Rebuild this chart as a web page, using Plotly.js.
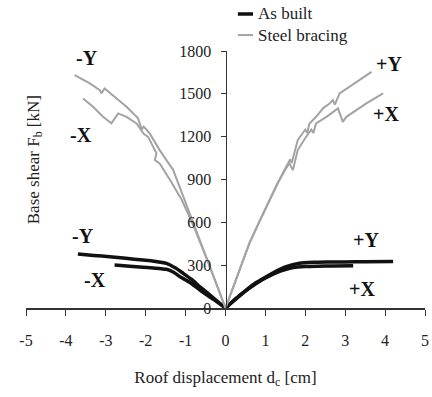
<!DOCTYPE html>
<html>
<head>
<meta charset="utf-8">
<script src="https://cdn.plot.ly/plotly-3.0.1.min.js"></script>
<style>html,body{margin:0;padding:0;background:#fff;}#chart{width:432px;height:397px;}</style>
</head>
<body>
<div id="chart"></div>
<script>
// Steel bracing curves (displacement cm, base shear kN)
const sbPosY_x = [0, 0.2, 0.4, 0.6, 0.84, 1.06, 1.3, 1.52, 1.62, 1.66, 1.81, 2.0, 2.05, 2.1, 2.27, 2.45, 2.6, 2.69, 2.74, 2.86, 3.1, 3.36, 3.66];
const sbPosY_y = [0, 150, 300, 455, 600, 735, 870, 989, 1040, 1015, 1176, 1250, 1225, 1290, 1339, 1400, 1430, 1456, 1425, 1503, 1550, 1596, 1654];
const sbPosX_x = [0, 0.2, 0.4, 0.6, 0.84, 1.06, 1.3, 1.5, 1.60, 1.69, 1.81, 2.02, 2.15, 2.2, 2.27, 2.53, 2.82, 2.94, 3.03, 3.53, 3.95];
const sbPosX_y = [0, 150, 300, 455, 600, 735, 870, 970, 1013, 966, 1106, 1199, 1250, 1225, 1293, 1339, 1398, 1304, 1339, 1433, 1503];
const sbNegY_x = [0, -0.4, -0.8, -1.05, -1.31, -1.65, -1.90, -2.05, -2.1, -2.19, -2.48, -2.82, -3.03, -3.11, -3.15, -3.40, -3.78];
const sbNegY_y = [0, 300, 590, 775, 966, 1106, 1223, 1270, 1250, 1328, 1409, 1491, 1538, 1503, 1526, 1573, 1631];
const sbNegX_x = [0, -0.4, -0.8, -1.1, -1.39, -1.65, -1.77, -1.73, -1.94, -2.05, -2.23, -2.48, -2.69, -2.86, -3.07, -3.32, -3.57];
const sbNegX_y = [0, 295, 575, 760, 896, 1013, 1036, 1083, 1199, 1220, 1293, 1339, 1363, 1293, 1339, 1409, 1468];

// As built curves
const abPosY_x = [0, 0.25, 0.52, 0.75, 1.02, 1.25, 1.52, 1.85, 2.2, 2.53, 3.0, 3.5, 4.2];
const abPosY_y = [0, 65, 126, 175, 219, 255, 289, 313, 320, 322, 323, 324, 325];
const abPosX_x = [0, 0.25, 0.5, 0.75, 1.0, 1.25, 1.5, 1.7, 2.0, 2.3, 2.7, 3.2];
const abPosX_y = [0, 60, 118, 168, 210, 245, 270, 283, 290, 293, 295, 296];
const abNegY_x = [0, -0.3, -0.64, -0.85, -1.06, -1.25, -1.48, -1.8, -2.07, -2.5, -2.9, -3.3, -3.70];
const abNegY_y = [0, 70, 149, 200, 243, 280, 313, 328, 336, 348, 359, 368, 378];
const abNegX_x = [0, -0.3, -0.64, -0.9, -1.14, -1.3, -1.48, -1.8, -2.07, -2.4, -2.78];
const abNegX_y = [0, 60, 126, 180, 219, 250, 271, 280, 285, 293, 301];

const xTicks = [-5, -4, -3, -2, -1, 0, 1, 2, 3, 4, 5];
const yTicks = [0, 300, 600, 900, 1200, 1500, 1800];
const seriesNames = ["As built", "Steel bracing"];

const FONT = '"Liberation Serif", serif';
const AB_COLOR = "#111111", SB_COLOR = "#a3a3a3";
const abLine = {color: AB_COLOR, width: 3.5, shape: "spline", smoothing: 0.6};
const sbLine = {color: SB_COLOR, width: 2};

function tr(x, y, name, line) {
  return {x: x, y: y, type: "scatter", mode: "lines", name: name, legendgroup: name,
          showlegend: false, line: line, hoverinfo: "skip"};
}

const data = [
  tr(abPosY_x, abPosY_y, seriesNames[0], abLine),
  tr(abPosX_x, abPosX_y, seriesNames[0], abLine),
  tr(abNegY_x, abNegY_y, seriesNames[0], abLine),
  tr(abNegX_x, abNegX_y, seriesNames[0], abLine),
  tr(sbPosY_x, sbPosY_y, seriesNames[1], sbLine),
  tr(sbPosX_x, sbPosX_y, seriesNames[1], sbLine),
  tr(sbNegY_x, sbNegY_y, seriesNames[1], sbLine),
  tr(sbNegX_x, sbNegX_y, seriesNames[1], sbLine)
];

const lab = (x, y, t) => ({x: x, y: y, xref: "x", yref: "y", text: "<b>" + t + "</b>", showarrow: false,
  font: {family: FONT, size: 20, color: "#111"}});

// legend drawn as swatch + text (paper coordinates)
const legRows = [{y: 1.144, color: AB_COLOR, w: 3.5}, {y: 1.062, color: SB_COLOR, w: 2}];
const legShapes = legRows.map(r => ({type: "line", xref: "paper", yref: "paper", x0: 0.531, x1: 0.569,
  y0: r.y, y1: r.y, line: {color: r.color, width: r.w}}));
const legTexts = legRows.map((r, i) => ({xref: "paper", yref: "paper", x: 0.576, y: r.y, xanchor: "left",
  yanchor: "middle", showarrow: false, text: seriesNames[i], font: {family: FONT, size: 17, color: "#222"}}));

const layout = {
  width: 432, height: 397,
  margin: {l: 26, r: 7, t: 51, b: 89},
  paper_bgcolor: "#fff", plot_bgcolor: "#fff",
  font: {family: FONT, color: "#222", size: 16},
  showlegend: false,
  xaxis: {range: [-5, 5], tickvals: xTicks, ticktext: xTicks.map(String), showgrid: false, zeroline: false,
          showline: true, linecolor: "#333", linewidth: 1.5, ticks: "outside", ticklen: 6, tickcolor: "#333",
          ticklabelstandoff: 11,
          tickfont: {family: FONT, size: 16, color: "#222"},
          title: {text: "Roof displacement d<sub>c</sub> [cm]", standoff: 23, font: {family: FONT, size: 17, color: "#222"}}},
  yaxis: {range: [0, 1800], tickvals: yTicks, ticktext: yTicks.map(String), showgrid: false, zeroline: false,
          anchor: "free", position: 0.5, showline: true, linecolor: "#333", linewidth: 1.5,
          ticks: "outside", ticklen: 5, tickcolor: "#333", ticklabelstandoff: 6,
          tickfont: {family: FONT, size: 16, color: "#222"}},
  shapes: legShapes,
  annotations: [
    lab(-3.48, 1750, "-Y"), lab(-3.61, 1211, "-X"), lab(4.11, 1708, "+Y"), lab(4.03, 1358, "+X"),
    lab(-3.56, 504, "-Y"), lab(-3.28, 196, "-X"), lab(3.53, 476, "+Y"), lab(3.43, 133, "+X"),
    {x: -0.01, y: 0.575, xref: "paper", yref: "paper", textangle: -90, showarrow: false,
     text: "Base shear F<sub>b</sub> [kN]", font: {family: FONT, size: 17, color: "#222"}}
  ].concat(legTexts)
};

Plotly.newPlot("chart", data, layout, {staticPlot: true, displayModeBar: false});
</script>
</body>
</html>
